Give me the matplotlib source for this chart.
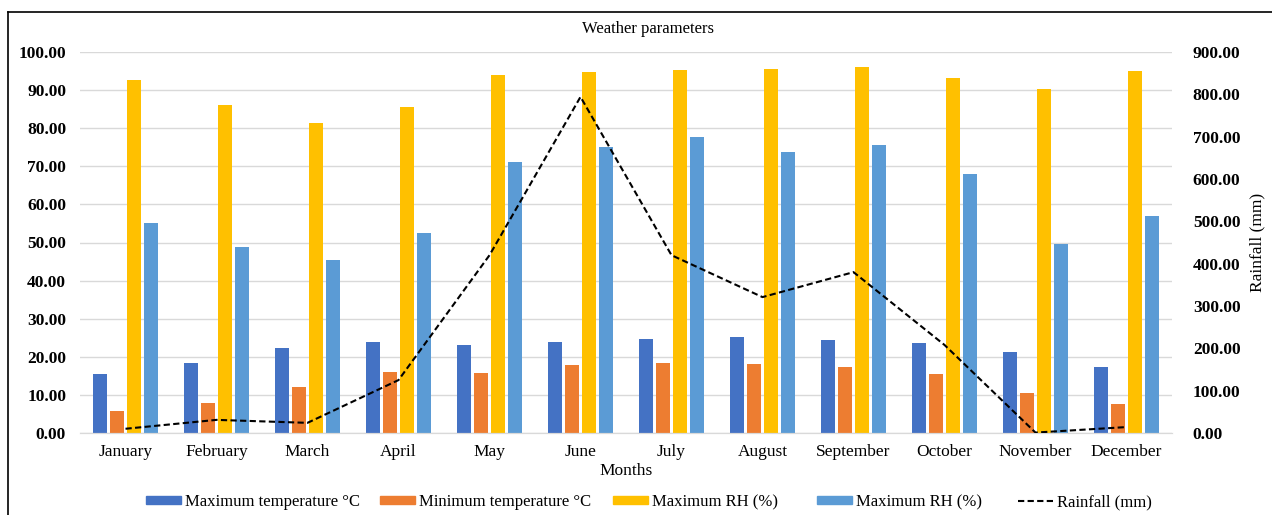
import matplotlib
matplotlib.use("Agg")
import matplotlib.pyplot as plt
import numpy as np
from matplotlib.lines import Line2D

months = ["January", "February", "March", "April", "May", "June", "July",
          "August", "September", "October", "November", "December"]
max_temp = [15.6, 18.3, 22.4, 24.0, 23.1, 24.0, 24.6, 25.3, 24.4, 23.5, 21.2, 17.4]
min_temp = [5.8, 7.8, 12.2, 16.0, 15.8, 17.8, 18.3, 18.0, 17.4, 15.6, 10.6, 7.6]
max_rh = [92.6, 86.2, 81.4, 85.5, 94.0, 94.8, 95.3, 95.6, 96.0, 93.3, 90.3, 95.0]
min_rh = [55.0, 48.8, 45.4, 52.6, 71.2, 75.0, 77.8, 73.7, 75.7, 68.0, 49.5, 57.0]
rainfall = [10, 31, 24, 125, 420, 794, 420, 321, 380, 208, 1, 14]

series_labels = ["Maximum temperature \u00b0C", "Minimum temperature \u00b0C",
                 "Maximum RH (%)", "Maximum RH (%)", "Rainfall (mm)"]
colors = ["#4472C4", "#ED7D31", "#FFC000", "#5B9BD5"]

plt.rcParams['font.family'] = ['Liberation Serif', 'DejaVu Serif']

fig = plt.figure(figsize=(12.72, 5.15), dpi=100)
ax = fig.add_axes([80/1272, 1-433/515, (1172-80)/1272, (433-52)/515])
ax2 = ax.twinx()

x = np.arange(len(months))
step = 0.187
width = 0.155
for i, (vals, c) in enumerate(zip([max_temp, min_temp, max_rh, min_rh], colors)):
    ax.bar(x + (i - 1.5) * step, vals, width=width, color=c, zorder=2)

ax2.plot(x, rainfall, color="black", linestyle=(0, (3, 1.6)), linewidth=1.5, zorder=3)

ax.set_xlim(-0.5, 11.5)
ax.set_ylim(0, 100)
ax2.set_ylim(0, 900)
ax.set_yticks(np.arange(0, 101, 10))
ax2.set_yticks(np.arange(0, 901, 100))
ax.set_yticklabels([f"{v:.2f}" for v in np.arange(0, 101, 10)], fontweight="bold", fontsize=12.5)
ax2.set_yticklabels([f"{v:.2f}" for v in np.arange(0, 901, 100)], fontweight="bold", fontsize=12.5)
ax.set_xticks(x)
ax.set_xticklabels(months, fontsize=12.5)
ax.grid(axis="y", color="#D9D9D9", linewidth=1, zorder=0)
ax.set_axisbelow(True)
for a in (ax, ax2):
    for s in ["top", "left", "right"]:
        a.spines[s].set_visible(False)
    a.spines["bottom"].set_color("#D9D9D9")
    a.tick_params(length=0)
ax.tick_params(axis="y", pad=10)
ax2.tick_params(axis="y", pad=15)
ax.tick_params(axis="x", pad=8)
ax.set_xlabel("Months", fontsize=12.5, labelpad=2)
ax2.set_ylabel("Rainfall (mm)", fontsize=12.5, labelpad=6)

fig.text(648/1272, 1-29/515, "Weather parameters", ha="center", va="center", fontsize=12)

leg_handles = [plt.Rectangle((0, 0), 1, 1, color=c) for c in colors] + [
    Line2D([0], [0], color="black", linestyle=(0, (3, 1.6)), linewidth=1.5)]
leg_x = [146, 380, 613, 817, 1018]
for h, lab, lx in zip(leg_handles, series_labels, leg_x):
    fig.legend([h], [lab], loc="center left", bbox_to_anchor=(lx/1272, 1-502/515),
               frameon=False, fontsize=12, handlelength=2.1, handleheight=0.3,
               handletextpad=0.25, borderpad=0, borderaxespad=0)

# outer frame
fig.add_artist(Line2D([8/1272, 8/1272], [0, 1-12/515], color="black", linewidth=1.2, transform=fig.transFigure))
fig.add_artist(Line2D([8/1272, 1], [1-12/515, 1-12/515], color="black", linewidth=1.2, transform=fig.transFigure))

fig.savefig("out.png", dpi=100)
